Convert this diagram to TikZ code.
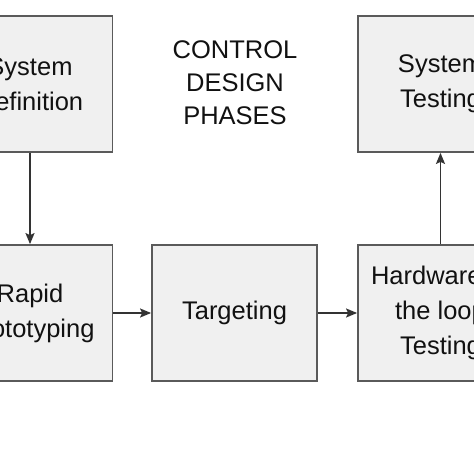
\documentclass[tikz,border=0pt]{standalone}
\usepackage{fontspec}
\setmainfont{Liberation Sans}
\usetikzlibrary{arrows.meta}
\definecolor{boxfill}{HTML}{F0F0F0}
\definecolor{boxline}{HTML}{5A5A5A}
\definecolor{arrowline}{HTML}{333333}
\definecolor{txt}{HTML}{111111}
\tikzset{
  phase/.style={draw=boxline, fill=boxfill, line width=1.8pt, minimum width=165pt, minimum height=136pt,
    inner sep=0pt, align=center, text=txt, font=\fontsize{25.5}{35}\selectfont},
  flow/.style={draw=arrowline, line width=1.5pt, -{Stealth[length=11pt,width=9pt,inset=2pt]}},
  title/.style={align=center, text=txt, font=\fontsize{25.5}{33}\selectfont}
}
\begin{document}
\begin{tikzpicture}[x=1pt,y=-1pt]
\useasboundingbox (0,0) rectangle (474,474);
\clip (0,0) rectangle (474,474);
\fill[white] (0,0) rectangle (474,474);
\node[phase] (def) at (30,84) {System\\Definition};
\node[phase] (proto) at (30,313) {Rapid\\Prototyping};
\node[phase] (target) at (234.5,313) {Targeting};
\node[phase] (hil) at (440.5,313) {Hardware-in\\the loop\\Testing};
\node[phase] (systest) at (440.5,84) {System\\Testing};
\node[title] (ttl) at (235,83) {CONTROL\\DESIGN\\PHASES};
\draw[flow] (def) -- (proto);
\draw[flow] (proto) -- (target);
\draw[flow] (target) -- (hil);
\draw[flow] (hil) -- (systest);
\end{tikzpicture}
\end{document}
